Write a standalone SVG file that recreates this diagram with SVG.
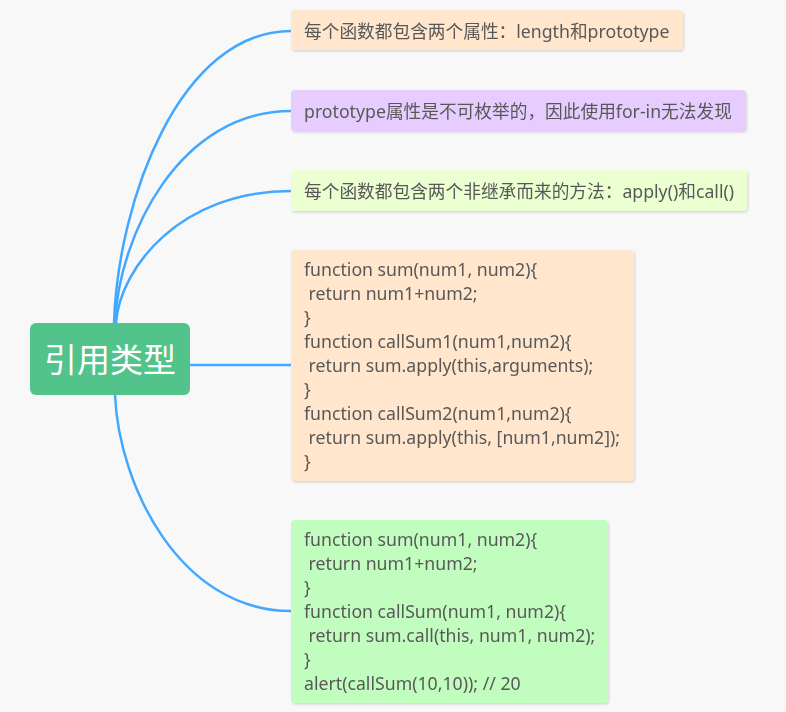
<svg xmlns="http://www.w3.org/2000/svg" width="786" height="712" viewBox="0 0 786 712">
<defs>
<filter id="sh" x="-5%" y="-5%" width="110%" height="115%">
<feDropShadow dx="1" dy="1.5" stdDeviation="0.8" flood-color="#000" flood-opacity="0.15"/>
</filter>
<style>
.t{font-family:"Noto Sans","Noto Sans CJK SC",sans-serif;font-size:17.7px;fill:#595959}
.c{fill:none;stroke:#42a8ff;stroke-width:2.5;stroke-linecap:round}
.n{filter:url(#sh)}
</style>
</defs>
<rect width="786" height="712" fill="#f8f8f8"/>
<g id="connectors">
<path class="c" d="M114,323 C118,200 180,31 291,31"/>
<path class="c" d="M115,323 C119,234 180,111 291,111"/>
<path class="c" d="M116,323 C120,268 180,191 291,191"/>
<path class="c" d="M190,365 L291,365"/>
<path class="c" d="M115,395 C119,486 180,611 291,611"/>
</g>
<g id="root">
<rect x="30" y="323" width="160" height="72" rx="6" fill="#51c38b"/>
<text x="110" y="372" text-anchor="middle" style="font-family:'Noto Sans CJK SC',sans-serif;font-size:33px;fill:#fff">引用类型</text>
</g>
<g id="node1" class="n">
<rect x="291" y="10" width="392" height="40" rx="4" fill="#ffe6cc"/>
<text class="t" x="304" y="38">每个函数都包含两个属性：length和prototype</text>
</g>
<g id="node2" class="n">
<rect x="291" y="90" width="455" height="41" rx="4" fill="#e6ccff"/>
<text class="t" x="304" y="118">prototype属性是不可枚举的，因此使用for-in无法发现</text>
</g>
<g id="node3" class="n">
<rect x="291" y="170" width="456" height="41" rx="4" fill="#ebffd1"/>
<text class="t" x="304" y="198">每个函数都包含两个非继承而来的方法：apply()和call()</text>
</g>
<g id="node4" class="n">
<rect x="291" y="250" width="343" height="231" rx="4" fill="#ffe6cc"/>
<text class="t" xml:space="preserve"><tspan x="304" y="276">function sum(num1, num2){</tspan><tspan x="304" y="300"> return num1+num2;</tspan><tspan x="304" y="324">}</tspan><tspan x="304" y="348">function callSum1(num1,num2){</tspan><tspan x="304" y="372"> return sum.apply(this,arguments);</tspan><tspan x="304" y="396">}</tspan><tspan x="304" y="420">function callSum2(num1,num2){</tspan><tspan x="304" y="444"> return sum.apply(this, [num1,num2]);</tspan><tspan x="304" y="468">}</tspan></text>
</g>
<g id="node5" class="n">
<rect x="291" y="520" width="317" height="183" rx="4" fill="#c2fdc0"/>
<text class="t" xml:space="preserve"><tspan x="304" y="546">function sum(num1, num2){</tspan><tspan x="304" y="570"> return num1+num2;</tspan><tspan x="304" y="594">}</tspan><tspan x="304" y="618">function callSum(num1, num2){</tspan><tspan x="304" y="642"> return sum.call(this, num1, num2);</tspan><tspan x="304" y="666">}</tspan><tspan x="304" y="690">alert(callSum(10,10)); // 20</tspan></text>
</g>
</svg>
